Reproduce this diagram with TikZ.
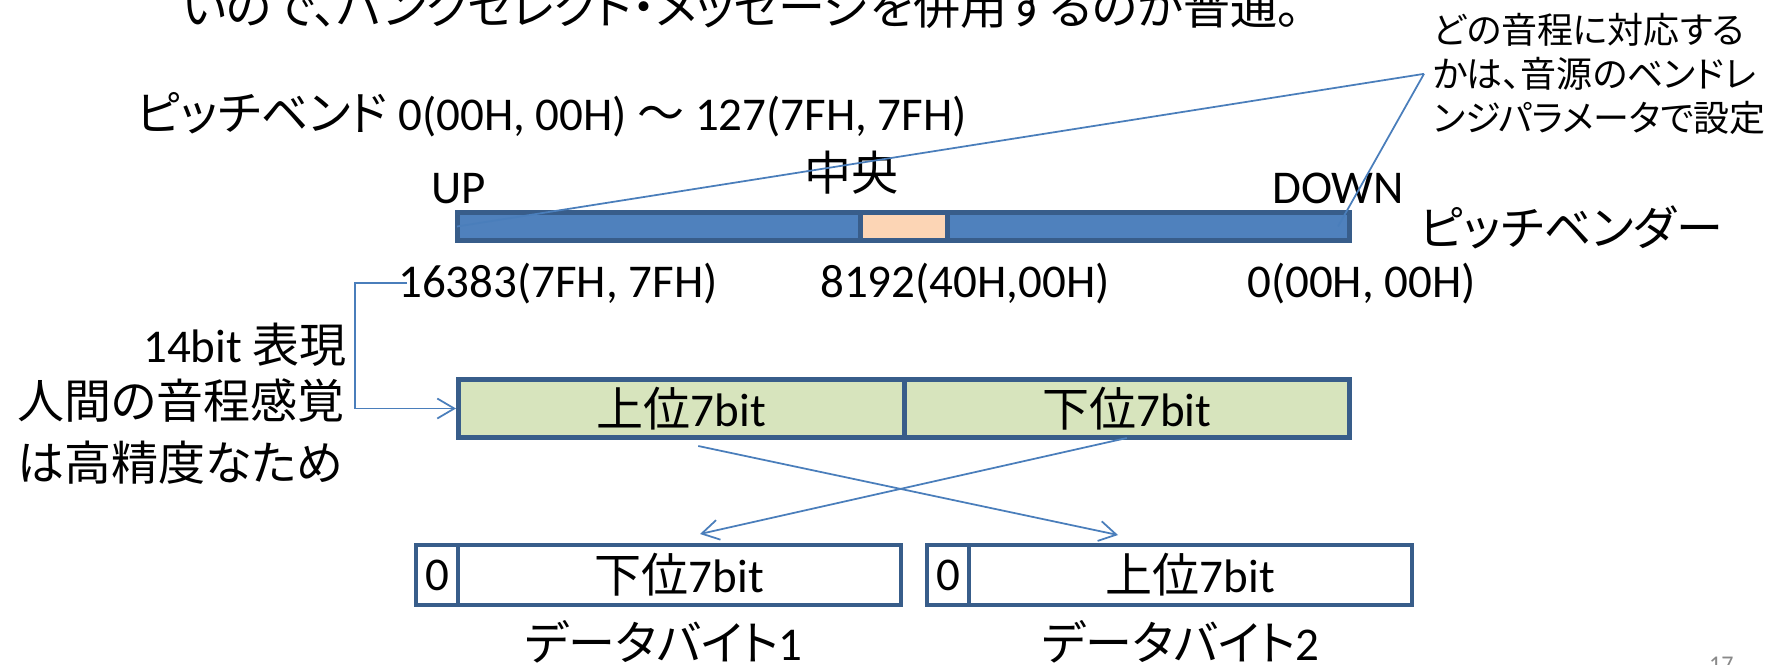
\documentclass[tikz,border=0pt]{standalone}
\usepackage{fontspec}
\setmainfont{Carlito}
\newfontfamily\jp[RawFeature=+palt]{Noto Sans CJK JP}
\usetikzlibrary{arrows.meta}
\definecolor{edge}{HTML}{385D8A}
\definecolor{barblue}{HTML}{4F81BD}
\definecolor{peach}{HTML}{FCD5B5}
\definecolor{lgreen}{HTML}{D7E4BD}
\definecolor{linkblue}{HTML}{4A7EBB}
\definecolor{pgnum}{HTML}{898989}
\begin{document}
\begin{tikzpicture}[x=1pt,y=-1pt,
  txt/.style={inner sep=0pt, font=\fontsize{47}{53}\selectfont},
  notetxt/.style={inner sep=0pt, font=\fontsize{36}{44}\selectfont\jp, align=left},
  link/.style={draw=linkblue, line width=1.75pt},
  tip/.style={-{Straight Barb[length=17pt,width=20pt]}},
  barcell/.style={draw=edge, line width=5pt, inner sep=0pt, minimum height=28pt},
  greencell/.style={draw=edge, fill=lgreen, line width=5pt, inner sep=0pt, minimum height=58pt, minimum width=445.5pt, font=\fontsize{47}{53}\selectfont},
  bytecell/.style={draw=edge, fill=white, line width=4pt, inner sep=0pt, minimum height=60pt, font=\fontsize{47}{53}\selectfont},
]
\useasboundingbox[fill=white] (0,0) rectangle (1780,664);

% heading (cut off at top)
\node[txt, anchor=base west] (head) at (182,24) {\jp いので、バンクセレクト・メッセージを併用するのが普通。};

% note
\node[notetxt, anchor=north west] (note) at (1433,13) {どの音程に対応する\\かは、音源のベンドレ\\ンジパラメータで設定};

% range line
\node[txt, anchor=base west] (range) at (137,130) {{\jp ピッチベンド} 0(00H, 00H) {\jp 〜} 127(7FH, 7FH)};

% pitch bender bar
\node[barcell, fill=barblue, minimum width=892pt] (bar) at (903.5,226.5) {};
\node[barcell, fill=peach, minimum width=87pt] (mid) at (904,226.5) {};

\node[txt, anchor=base west] (up) at (431,203) {UP};
\node[txt, anchor=base] (center) at (851,190) {\jp 中央};
\node[txt, anchor=base west] (down) at (1272,203) {DOWN};
\node[txt, anchor=base west] (bender) at (1420,245) {\jp ピッチベンダー};

\draw[link] ([xshift=-9pt]note.west) -- ([xshift=2pt]bar.west);
\draw[link] ([xshift=-9pt]note.west) -- ([xshift=-14pt]bar.east);

\node[txt, anchor=base west] (vmax) at (398,297) {16383(7FH, 7FH)};
\node[txt, anchor=base west] (vmid) at (820,297) {8192(40H,00H)};
\node[txt, anchor=base west] (vmin) at (1247,297) {0(00H, 00H)};

% left texts
\node[txt, anchor=base east] (bits) at (347,362) {14bit {\jp 表現}};
\node[txt, anchor=north west, align=left, font=\fontsize{47}{53}\selectfont\jp] (human) at (17,379) {人間の音程感覚\\[9pt]は高精度なため};

% 14-bit word
\node[greencell] (hi) at (681.25,408.5) {{\jp 上位}7bit};
\node[greencell] (lo) at (1126.75,408.5) {{\jp 下位}7bit};

\coordinate (turn) at (355,281);
\draw[link, tip] ([xshift=9pt]vmax.west) -- (vmax.west -| turn) |- (hi.west);

% data bytes
\node[bytecell, minimum width=42pt] (z1) at (437,575) {0};
\node[bytecell, minimum width=443pt] (b1) at (679.5,575) {{\jp 下位}7bit};
\node[bytecell, minimum width=42pt] (z2) at (948,575) {0};
\node[bytecell, minimum width=443pt] (b2) at (1190.5,575) {{\jp 上位}7bit};

\draw[link, tip] ([xshift=17pt,yshift=-6pt]hi.south) -- ([xshift=-72.5pt,yshift=8pt]b2.north);
\draw[link, tip] ([yshift=2pt]lo.south) -- ([xshift=20.5pt,yshift=9pt]b1.north);

\node[txt, anchor=base west] (db1) at (525,660) {{\jp データバイト}1};
\node[txt, anchor=base west] (db2) at (1042,660) {{\jp データバイト}2};

\node[inner sep=0pt, anchor=base west, text=pgnum, font=\fontsize{24}{28}\selectfont] (page) at (1709,672) {17};
\end{tikzpicture}
\end{document}
